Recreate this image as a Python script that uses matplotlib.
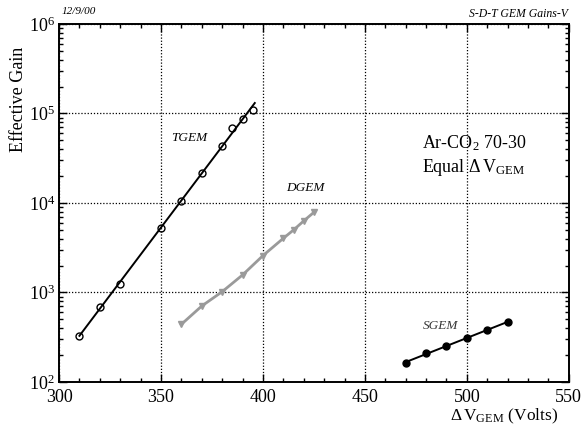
import numpy as np
import matplotlib
matplotlib.use("Agg")
import matplotlib.pyplot as plt
from matplotlib.ticker import LogLocator, MultipleLocator, NullFormatter

plt.rcParams["font.family"] = "Liberation Serif"
plt.rcParams["mathtext.fontset"] = "custom"
plt.rcParams["mathtext.rm"] = "Liberation Serif"
plt.rcParams["mathtext.it"] = "Liberation Serif:italic"

# Gain vs. voltage across each GEM
tgem_v = [310, 320, 330, 350, 360, 370, 380, 385, 390, 395]
tgem_gain = [327, 690, 1245, 5250, 10500, 21600, 43300, 68900, 87500, 109000]

dgem_v = [360, 370, 380, 390, 400, 410, 415, 420, 425]
dgem_gain = [441, 706, 1020, 1570, 2580, 4030, 4990, 6300, 7870]

sgem_v = [470, 480, 490, 500, 510, 520]
sgem_gain = [162, 212, 252, 313, 381, 465]

fig = plt.figure(figsize=(5.81, 4.28), dpi=100)
ax = fig.add_axes([0.1016, 0.1075, 0.8774, 0.8365])

# exponential fits for the single and triple GEM curves
def expfit(v, g):
    p = np.polyfit(v, np.log10(g), 1)
    xs = np.array([min(v), max(v) + 1])
    return xs, 10 ** np.polyval(p, xs)

xs, ys = expfit(tgem_v, tgem_gain)
ax.plot(xs, ys, color="black", lw=1.4)
ax.plot(tgem_v, tgem_gain, "o", mfc="none", mec="black", ms=5, mew=1.0)

ax.plot(dgem_v, dgem_gain, color="#9a9a9a", lw=2.0, marker="v", ms=5,
        mfc="#9a9a9a", mec="#9a9a9a")

xs, ys = expfit(sgem_v, sgem_gain)
ax.plot(xs, ys, color="black", lw=1.4)
ax.plot(sgem_v, sgem_gain, "o", color="black", ms=5)

ax.set_yscale("log")
ax.set_xlim(300, 550)
ax.set_ylim(1e2, 1e6)

ax.xaxis.set_major_locator(MultipleLocator(50))
ax.xaxis.set_minor_locator(MultipleLocator(10))
ax.yaxis.set_major_locator(LogLocator(base=10, numticks=10))
ax.yaxis.set_minor_locator(LogLocator(base=10, subs=np.arange(2, 10), numticks=10))
ax.yaxis.set_minor_formatter(NullFormatter())

ax.tick_params(which="both", direction="in", top=True, right=True,
               labelsize=13, width=1.0)
ax.tick_params(which="major", length=6)
ax.tick_params(which="minor", length=3)
ax.tick_params(axis="x", which="major", pad=5)
ax.tick_params(axis="y", which="major", pad=3)

for s in ax.spines.values():
    s.set_linewidth(1.4)

ax.grid(True, which="major", linestyle=(0, (1, 1.5)), color="black", lw=0.9)

ax.set_ylabel("Effective Gain", fontsize=13)
ax.yaxis.set_label_coords(-0.062, 0.79)
ax.set_xlabel(r"$\Delta\,\mathrm{V}_{\mathrm{GEM}}$ (Volts)", fontsize=12.5,
              ha="right")
ax.xaxis.set_label_coords(0.98, -0.07)

ax.text(364, 5.3e4, "TGEM", style="italic", fontsize=9.5, ha="center", va="center")
ax.text(421, 1.47e4, "DGEM", style="italic", fontsize=9.5, ha="center", va="center")
ax.text(487, 420, "SGEM", style="italic", fontsize=9.5, ha="center", va="center",
        color="#333333")

ax.text(478, 4.7e4, r"Ar-CO$_2$ 70-30", fontsize=13, ha="left", va="center")
ax.text(478, 2.5e4, r"Equal $\Delta\,\mathrm{V}_{\mathrm{GEM}}$", fontsize=13,
        ha="left", va="center")

fig.text(62 / 581, 1 - 11 / 428, "12/9/00", style="italic", fontsize=8,
         ha="left", va="center")
fig.text(568 / 581, 1 - 14 / 428, "S-D-T GEM Gains-V", style="italic",
         fontsize=8.5, ha="right", va="center")

fig.savefig("out.png", dpi=100)
